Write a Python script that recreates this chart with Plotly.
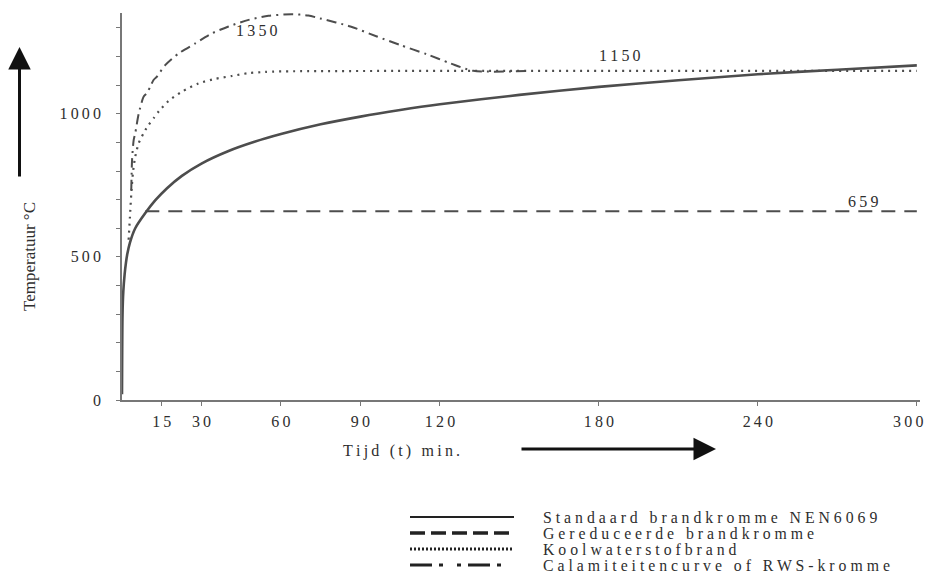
import plotly.graph_objects as go

# ---- data ----
std_t = [0, 0.2, 0.5, 1, 1.5, 2, 3, 5, 8.8, 12.6, 17, 22.6, 30, 40, 50, 60, 75, 90, 105, 120, 150, 180, 210, 240, 270, 300]
std_T = [20, 300, 380, 440, 480, 510, 550, 600, 653, 698, 740, 783, 826, 869, 902, 929, 963, 990, 1013, 1033, 1066, 1094, 1117, 1138, 1154, 1169]

red_t = [8.8, 300]
red_T = [659, 659]

hc_t = [2.5, 3.0, 3.5, 4.2, 5.0, 6.3, 8.8, 10, 12, 14, 17.6, 22.6, 28.9, 35.2, 41.5, 47.8, 54, 60, 300]
hc_T = [560, 640, 720, 800, 850, 897, 943, 960, 985, 1010, 1045, 1077, 1106, 1122, 1132, 1142, 1146, 1148, 1150]

rws_t = [3.5, 3.8, 4.4, 5.0, 6.3, 8.2, 9.4, 10.7, 11.9, 13.2, 16.3, 21.4, 27.7, 34.0, 40.2, 47.8, 55.3, 64.2, 70.3, 74.8, 86.2, 96.2, 105, 115, 124, 132.6, 154]
rws_T = [734, 839, 908, 932, 1000, 1060, 1072, 1095, 1118, 1130, 1170, 1211, 1246, 1281, 1305, 1328, 1342, 1348, 1343, 1333, 1305, 1270, 1240, 1208, 1176, 1150, 1150]

names = ["Standaard brandkromme NEN6069", "Gereduceerde brandkromme",
         "Koolwaterstofbrand", "Calamiteitencurve of RWS-kromme"]

x_ticks = [15, 30, 60, 90, 120, 180, 240, 300]
y_ticks = list(range(0, 1400, 100))
y_labelled = [0, 500, 1000]

curve_labels = [("1350", 51, 1290), ("1150", 188, 1202), ("659", 279.5, 695)]

# ---- styling ----
FONT = "Liberation Serif"
INK = "#2e2e2e"
LINE = "#4d4d4d"
styles = [
    dict(width=2.6, dash="solid"),
    dict(width=2.0, dash="14px,9px"),
    dict(width=2.2, dash="2px,5px"),
    dict(width=2.0, dash="10px,5px,2px,5px"),
]
legend_styles = [
    dict(width=2.0, dash="solid"),
    dict(width=3.5, dash="15px,6px"),
    dict(width=3.0, dash="2px,2px"),
    dict(width=3.0, dash="22px,7px,4px,14px,4px,7px"),
]

def spaced(s, sep="\u2009"):
    return sep.join(list(s))

fig = go.Figure()
series = [(std_t, std_T), (red_t, red_T), (hc_t, hc_T), (rws_t, rws_T)]
order = [1, 2, 3, 0]
for i in order:
    t, T = series[i]
    fig.add_trace(go.Scatter(
        x=t, y=T, mode="lines", name=names[i], showlegend=False,
        line=dict(color=LINE, width=styles[i]["width"], dash=styles[i]["dash"],
                  shape="spline", smoothing=0.7),
        hoverinfo="skip"))

# plot geometry (pixels)
L, R, TOP, B = 122, 9, 13, 182
W, H = 929, 582
pw, ph = W - L - R, H - TOP - B

def px(xp):
    return (xp - L) / pw

def py(yp):
    return (H - B - yp) / ph

annotations = []
for txt, xv, yv in curve_labels:
    annotations.append(dict(x=xv, y=yv, xref="x", yref="y", text=spaced(txt),
                            xanchor="center", yanchor="middle",
                            showarrow=False, font=dict(family=FONT, size=16, color=INK)))

# last x tick label sits slightly left of its tick (as in the reference) so it stays inside the page
last_tick = x_ticks[-1]
annotations.append(dict(x=last_tick, y=py(421), xref="x", yref="paper", xshift=-9,
                        text=spaced(str(last_tick)), showarrow=False,
                        xanchor="center", yanchor="middle",
                        font=dict(family=FONT, size=16, color=INK)))

# axis titles
annotations.append(dict(x=px(401), y=py(451), xref="paper", yref="paper",
                        xanchor="center", yanchor="middle",
                        text=spaced("Tijd (t) min."), showarrow=False,
                        font=dict(family=FONT, size=16, color=INK)))
annotations.append(dict(x=px(29), y=py(257), xref="paper", yref="paper",
                        xanchor="center", yanchor="middle",
                        text="Temperatuur °C", textangle=-90, showarrow=False,
                        font=dict(family=FONT, size=17, color=INK)))
# arrows
annotations.append(dict(x=px(19.5), y=py(47), xref="paper", yref="paper", text="",
                        showarrow=True, ax=0, ay=131, arrowhead=2, arrowsize=1.5,
                        arrowwidth=3, arrowcolor="#111111", standoff=0))
annotations.append(dict(x=px(716), y=py(449), xref="paper", yref="paper", text="",
                        showarrow=True, ax=-196, ay=0, arrowhead=2, arrowsize=1.5,
                        arrowwidth=3, arrowcolor="#111111", standoff=0))

# custom legend
shapes = []
rows = [517, 533, 549, 565]
for i, name in enumerate(names):
    shapes.append(dict(type="line", xref="paper", yref="paper",
                       x0=px(410), x1=px(514), y0=py(rows[i]), y1=py(rows[i]),
                       line=dict(color="#222222", width=legend_styles[i]["width"],
                                 dash=legend_styles[i]["dash"])))
    annotations.append(dict(x=px(541), y=py(rows[i]), xref="paper", yref="paper",
                            xanchor="left", yanchor="middle", showarrow=False,
                            text=spaced(name, " "),
                            font=dict(family=FONT, size=15.8, color=INK)))

fig.update_layout(
    width=W, height=H, autosize=False,
    margin=dict(l=L, r=R, t=TOP, b=B, pad=0),
    paper_bgcolor="white", plot_bgcolor="white",
    showlegend=False,
    annotations=annotations, shapes=shapes,
    xaxis=dict(range=[0, 301.2], showgrid=False, zeroline=False,
               showline=True, linecolor="#777777", linewidth=1.5,
               ticks="outside", ticklen=4, tickcolor="#777777",
               tickvals=x_ticks,
               ticktext=[spaced(str(v)) if v != last_tick else "" for v in x_ticks],
               tickfont=dict(family=FONT, size=16, color=INK),
               ticklabelstandoff=2),
    yaxis=dict(range=[0, 1352], showgrid=False, zeroline=False,
               showline=True, linecolor="#777777", linewidth=1.5,
               ticks="outside", ticklen=4, tickcolor="#777777",
               tickvals=y_ticks,
               ticktext=[spaced(str(v)) if v in y_labelled else "" for v in y_ticks],
               tickfont=dict(family=FONT, size=16, color=INK),
               ticklabelstandoff=12),
)

fig.write_html("out.html", config={"displayModeBar": False, "responsive": False},
               post_script="document.body.style.margin='0';document.body.style.overflow='hidden';")
